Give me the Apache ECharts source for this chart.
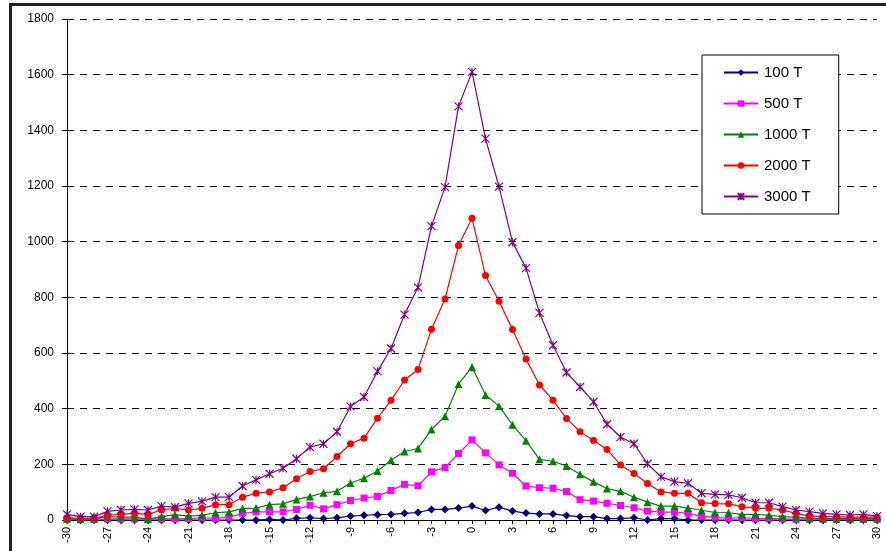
<!DOCTYPE html>
<html>
<head>
<meta charset="utf-8">
<script src="https://cdn.jsdelivr.net/npm/echarts@6/dist/echarts.min.js"></script>
<style>
html,body{margin:0;padding:0;background:#fff;}
#c{width:886px;height:551px;}
</style>
</head>
<body>
<div id="c"></div>
<script>
var categories = [];
for (var k = -30; k <= 30; k++) categories.push(String(k));

var seriesNames = ['100 T', '500 T', '1000 T', '2000 T', '3000 T'];

var t100 = [0,0,0,0,0,0,0,0,0,0,0,0,0,0,0,2,0,6,8,5,8,14,17,19,20,24,27,38,38,43,50,34,46,32,25,22,22,16,12,12,5,5,8,0,5,5,0,0,0,0,0,0,0,0,0,0,0,0,0,0,0];
var t500 = [3,2,2,4,4,4,3,4,5,5,8,6,10,24,29,29,29,38,53,40,55,70,79,85,106,128,123,173,188,239,288,241,198,168,122,116,114,102,73,68,60,52,44,32,28,28,24,13,10,6,9,5,6,4,2,4,3,3,3,3,3];
var t1000 = [5,3,5,12,10,10,3,12,19,14,17,26,29,41,43,55,58,74,84,98,103,133,150,176,215,246,257,325,373,488,550,449,409,342,285,218,211,194,164,137,113,103,82,64,50,50,43,35,27,26,20,20,17,12,10,6,6,5,5,5,6];
var t2000 = [8,6,7,17,20,24,20,36,42,36,42,55,55,82,96,101,116,148,174,184,228,274,294,366,430,503,541,685,794,986,1084,878,786,684,578,485,430,365,317,286,253,198,167,131,101,96,96,62,59,58,48,42,42,36,24,14,12,12,10,10,10];
var t3000 = [20,12,12,31,36,38,36,50,46,60,67,82,82,122,144,166,186,220,262,274,317,408,442,534,616,738,836,1056,1196,1486,1610,1370,1198,998,905,744,628,530,478,425,344,298,274,202,155,138,132,96,92,90,80,62,62,48,36,30,24,20,18,20,14];

var yMin = 0, yMax = 1800, yStep = 200;

var colors = ['#000080', '#FF00FF', '#008000', '#FF0000', '#800080'];
var symbols = ['diamond', 'rect', 'triangle', 'circle', 'path://M0,0L10,10M10,0L0,10M5,0L5,10'];
var symbolSizes = [8, 7, 8, 7, 8];
var datas = [t100, t500, t1000, t2000, t3000];

var chart = echarts.init(document.getElementById('c'), null, {renderer: 'canvas'});

var series = seriesNames.map(function (name, i) {
  var isStar = i === 4;
  return {
    name: name,
    type: 'line',
    data: datas[i],
    symbol: symbols[i],
    symbolSize: symbolSizes[i],
    showAllSymbol: true,
    animation: false,
    lineStyle: {color: colors[i], width: 1.2},
    itemStyle: isStar ? {color: colors[i], borderColor: colors[i], borderWidth: 1.2} : {color: colors[i], borderWidth: 0},
    emphasis: {disabled: true},
    z: 2 + i
  };
});

var option = {
  animation: false,
  backgroundColor: '#ffffff',
  textStyle: {fontFamily: 'Liberation Sans, Arial, sans-serif'},
  graphic: [{
    type: 'rect',
    shape: {x: 10.5, y: 4.5, width: 1200, height: 1000},
    style: {fill: 'none', stroke: '#222', lineWidth: 3},
    silent: true,
    z: 100
  }],
  grid: {left: 67, right: 9, top: 19, bottom: 31, containLabel: false},
  legend: {
    orient: 'vertical',
    left: 702,
    top: 55,
    data: seriesNames,
    backgroundColor: '#fff',
    borderColor: '#000',
    borderWidth: 1,
    borderRadius: 0,
    padding: [10, 28, 10, 21],
    itemWidth: 34,
    itemHeight: 8,
    itemGap: 16,
    textStyle: {fontSize: 15, color: '#000', fontFamily: 'Liberation Sans, Arial, sans-serif', padding: [0, 0, 0, 1]},
    z: 50
  },
  xAxis: {
    type: 'category',
    data: categories,
    boundaryGap: false,
    axisLine: {lineStyle: {color: '#000', width: 1}},
    axisTick: {show: true, interval: 0, length: 4, lineStyle: {color: '#000'}},
    axisLabel: {
      interval: 2,
      rotate: 90,
      fontSize: 11,
      color: '#000',
      margin: 7
    },
    splitLine: {show: false}
  },
  yAxis: {
    type: 'value',
    min: yMin,
    max: yMax,
    interval: yStep,
    axisLine: {show: true, lineStyle: {color: '#000', width: 1}},
    axisTick: {show: true, length: 5, lineStyle: {color: '#000'}},
    axisLabel: {fontSize: 12, color: '#000', margin: 13, formatter: function (v) { return String(v); }},
    splitLine: {show: true, lineStyle: {color: '#000', type: [7, 6], width: 1}}
  },
  series: series
};

chart.setOption(option);
</script>
</body>
</html>
